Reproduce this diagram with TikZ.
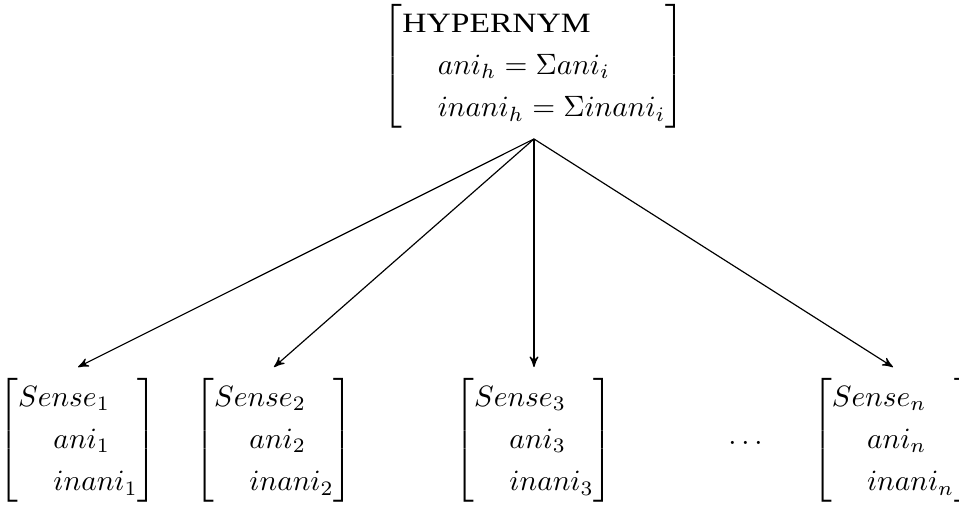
\documentclass[tikz,border=0pt]{standalone}
\usepackage[no-math]{fontspec}
\usepackage{amsmath}
\usepackage{graphicx}
\usepackage{tikz}
\usetikzlibrary{arrows,positioning}
\newfontfamily\hyperfont{Liberation Serif}
\renewcommand{\arraystretch}{1.2}
\newcommand{\indt}{\hspace{12pt}}
\newcommand{\sensebox}[1]{$\left[\begin{array}{@{}l@{}}
  Sense_{#1}\\ \indt ani_{#1}\\ \indt inani_{#1}
  \end{array}\right]$}

\begin{document}
\begin{tikzpicture}[x=0.34pt,y=-0.34pt]
                    \tikzstyle{every node}+=[inner sep=3pt]
                    \useasboundingbox (0,0) rectangle (959,506);
                    \node (hyper) at (534,66) {$\left[\begin{array}{@{}l@{}}
                      \text{\hyperfont\fontsize{9.5}{11}\selectfont\scalebox{1.2}[1]{HYPERNYM}}\\
                      \indt ani_h = \Sigma ani_i\\
                      \indt inani_h = \Sigma inani_i
                      \end{array}\right]$};
                    \node (sense1) at (78,440) {\sensebox{1}};
                    \node (sense2) at (274,440) {\sensebox{2}};
                    \node (sense3) at (534,440) {\sensebox{3}};
                    \node (dots) at (748,443) {$\dots$};
                    \node (sensen) at (893,440) {\sensebox{n}};
                    \draw [black,->,>=stealth'] (hyper.south) -- (sense1.north);
                    \draw [black,->,>=stealth'] (hyper.south) -- (sense2.north);
                    \draw [black,->,>=stealth'] (hyper.south) -- (sense3.north);
                    \draw [black,->,>=stealth'] (hyper.south) -- (sensen.north);
                \end{tikzpicture}
\end{document}
